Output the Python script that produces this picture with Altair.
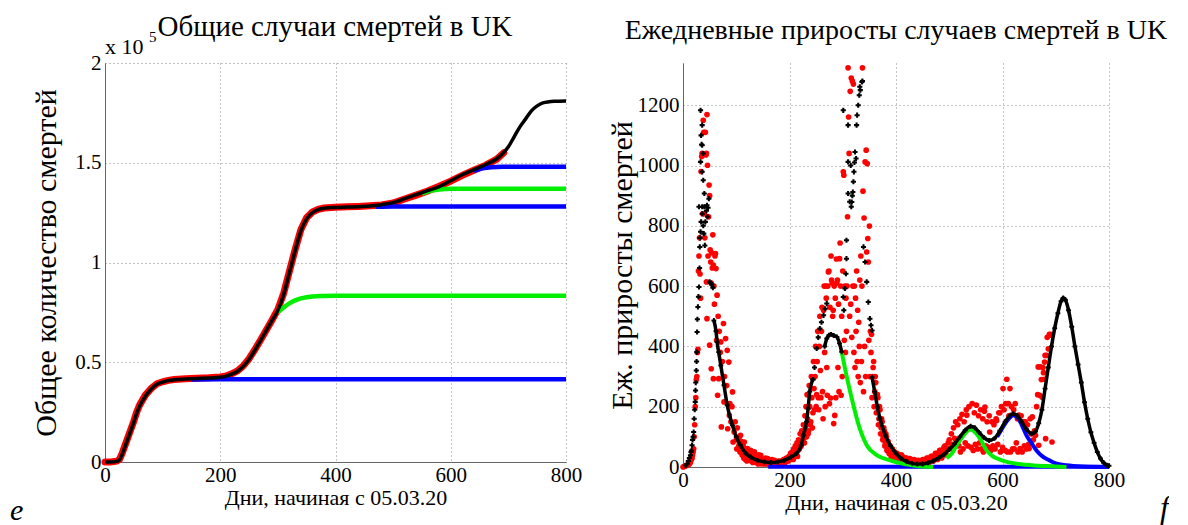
import altair as alt
import pandas as pd

FONT = "Liberation Serif, Times New Roman, serif"

# ---------------- Left panel: cumulative deaths (units of 10^5) ----------------
cum_model_days = [0, 10, 20, 25, 30, 35, 40, 45, 50, 55, 60, 70, 80, 90, 100, 110, 120, 140, 160, 180,
                  200, 210, 220, 230, 240, 250, 260, 270, 280, 290, 300, 310, 320, 330, 340, 350, 360, 370, 380, 400,
                  420, 440, 460, 480, 500, 520, 540, 560, 580, 600, 620, 640, 660, 680, 690, 700, 710, 720, 730, 740,
                  750, 760, 780, 800]
cum_model = [0, 0, 0.003, 0.01, 0.04, 0.08, 0.12, 0.16, 0.2, 0.245, 0.28, 0.33, 0.365, 0.39, 0.4, 0.408, 0.412, 0.416, 0.419, 0.421,
             0.425, 0.43, 0.44, 0.455, 0.48, 0.515, 0.56, 0.61, 0.66, 0.71, 0.76, 0.84, 0.95, 1.06, 1.16, 1.22, 1.25, 1.265, 1.272, 1.276,
             1.278, 1.28, 1.283, 1.29, 1.30, 1.32, 1.34, 1.36, 1.38, 1.41, 1.44, 1.465, 1.49, 1.52, 1.545, 1.58, 1.63, 1.68, 1.72, 1.76,
             1.785, 1.80, 1.808, 1.81]

cum_data_days = [0, 10, 20, 25, 30, 35, 40, 45, 50, 55, 60, 70, 80, 90, 100, 110, 120, 140, 160, 180,
                 200, 210, 220, 230, 240, 250, 260, 270, 280, 290, 300, 310, 320, 330, 340, 350, 360, 370, 380, 400,
                 420, 440, 460, 480, 500, 520, 540, 560, 580, 600, 620, 640, 660, 680, 692]
cum_data = [0, 0, 0.004, 0.012, 0.045, 0.085, 0.125, 0.165, 0.205, 0.25, 0.285, 0.335, 0.368, 0.392, 0.402, 0.409, 0.413, 0.417, 0.42, 0.422,
            0.426, 0.431, 0.442, 0.457, 0.482, 0.518, 0.563, 0.612, 0.662, 0.712, 0.765, 0.845, 0.955, 1.065, 1.165, 1.225, 1.253, 1.266, 1.273, 1.277,
            1.279, 1.281, 1.284, 1.288, 1.298, 1.318, 1.338, 1.358, 1.382, 1.408, 1.437, 1.462, 1.487, 1.518, 1.55]

blue1_days = [150, 200, 240, 800]
blue1 = [0.414, 0.415, 0.415, 0.415]
green1_days = [300, 310, 320, 330, 340, 350, 360, 380, 400, 800]
green1 = [0.75, 0.775, 0.795, 0.81, 0.82, 0.826, 0.83, 0.832, 0.833, 0.833]
blue2_days = [470, 500, 800]
blue2 = [1.279, 1.281, 1.281]
green2_days = [550, 560, 570, 580, 600, 800]
green2 = [1.345, 1.355, 1.362, 1.366, 1.37, 1.37]
blue3_days = [640, 655, 670, 690, 800]
blue3 = [1.46, 1.472, 1.478, 1.48, 1.48]

# ---------------- Right panel: daily increments ----------------
red_days = [0, 2, 4, 6, 8, 10, 12, 14, 16, 17, 18, 19, 20, 21, 22, 23, 24, 25, 26, 27, 28, 29, 30,
            31, 32, 33, 34, 35, 36, 37, 38, 39, 40, 41, 42, 43, 44, 45, 46, 47, 48, 49, 50,
            51, 52, 53, 54, 55, 56, 57, 58, 59, 60,
            44, 45, 50, 53, 57, 61, 62, 64,
            63, 65, 66, 67, 68, 70, 71, 72, 74, 76, 77, 78, 80, 82, 83, 84, 86, 87, 88, 90, 92, 93, 94, 96, 98,
            100, 102, 104, 105, 106, 108, 110, 112, 115, 118, 121, 124, 127, 130, 134, 138, 142, 146, 150, 155,
            159, 163, 167, 172, 176, 180, 185, 190, 195, 197, 200, 204, 207, 209, 212, 215, 219, 222, 225, 228,
            101, 103, 107, 109, 111, 113, 114, 116, 117, 119, 120, 122, 123, 125, 126, 128, 129, 131, 132, 133,
            135, 136, 137, 139, 140, 141, 143, 144, 145, 147, 148, 149, 151, 152, 153, 154, 156, 157, 158, 160,
            161, 162, 164, 165, 166, 168, 169, 170, 171, 173, 174, 175, 177, 178, 179, 181, 182, 183, 184, 186,
            187, 188, 189, 191, 192, 193, 194, 196, 198, 199, 201, 202, 203, 205, 206, 208, 210, 211, 213, 214,
            216, 217, 218, 220, 221, 223, 224, 226, 227, 229,
            230, 231, 232, 233, 234, 235, 236, 237, 238, 239, 240, 241, 242, 243, 244, 245, 246, 247, 248, 249,
            250, 251, 252, 253, 254, 255, 256, 257, 258, 259, 260, 261, 262, 263, 264, 265, 266, 267, 268, 269,
            270, 271, 272, 273, 274, 275, 276, 277, 278, 279, 280, 281, 282, 283, 284, 285, 286, 287, 288, 289,
            290, 291, 292, 293, 294, 295, 296, 297, 298, 299, 300, 301, 302, 303, 304, 305, 306, 307, 308, 309,
            310, 311, 312, 313, 314, 315, 316, 317, 318, 319, 320, 321, 322, 323, 324, 325, 326, 327, 328, 329,
            330, 331, 332, 333, 334, 335, 336, 337, 338, 339, 340, 341, 342, 343, 344, 345, 346, 347, 348, 349,
            350, 351, 352, 353, 354, 355, 356, 357, 358, 359, 360, 361, 362, 363, 364, 365, 366, 367, 368, 369,
            370, 371, 372, 373, 374, 375, 376, 377, 378, 379, 380, 381, 382, 383, 384, 385, 386, 387, 388, 389,
            390, 391, 392, 393, 394, 395, 396, 397, 398, 399, 400, 402, 404, 406, 408, 410, 412, 414, 416, 418,
            420, 422, 424, 426, 428, 430, 432, 434, 436, 438, 440, 442, 444, 446, 448, 450, 452, 454, 456, 458,
            460, 462, 464, 466, 468, 470, 472, 474, 476, 478, 480, 482, 484, 486, 488, 490, 492, 494, 496, 498,
            500, 501, 504, 506, 508, 510, 512, 514, 516, 518, 520, 521, 524, 526, 528, 530, 532, 533, 535, 537,
            539, 541, 543, 545, 547, 549, 551, 553, 555, 557, 559, 561, 563, 564, 566, 567, 569, 571, 573, 575,
            576, 578, 580, 582, 584, 586, 588, 589, 591, 593, 595, 596, 598, 600, 601, 603, 605, 606, 608, 609,
            611, 612, 614, 615, 617, 619, 621, 622, 624, 626, 628, 629, 631, 633, 635, 637, 639, 641, 643, 645,
            647, 649, 650, 652, 654, 656, 658, 660, 662, 664, 666, 667, 668, 670, 671, 673, 674, 676, 677, 678,
            679, 680, 681, 683, 684, 686, 688, 689, 691, 693]
red_vals = [0, 2, 3, 5, 6, 8, 10, 15, 25, 30, 40, 50, 60, 100, 140, 200, 230, 290, 300, 380, 390, 650, 700,
            760, 640, 560, 980, 1030, 1040, 840, 1150, 1110, 840, 760, 1110, 1035, 1040, 1169, 1001, 700, 830, 935, 900,
            720, 680, 610, 710, 660, 770, 670, 600, 540, 700,
            614, 492, 404, 326, 293, 708, 658, 570,
            420, 238, 500, 293, 450, 380, 415, 133, 350, 476, 216, 300, 426, 270, 387, 127, 348, 171, 210, 150, 200, 249, 83, 116, 150,
            90, 130, 60, 72, 100, 105, 70, 55, 83, 40, 61, 35, 55, 30, 50, 25, 40, 39, 20, 30,
            28, 15, 25, 22, 12, 20, 15, 25, 20, 28, 30, 40, 25, 44, 50, 35, 61, 70, 105, 80,
            60, 95, 50, 85, 40, 70, 30, 50, 25, 45, 20, 30, 50, 25, 40, 20, 35, 15, 45, 25,
            20, 35, 15, 30, 20, 10, 25, 15, 30, 20, 10, 25, 15, 25, 10, 20, 15, 10, 20, 12,
            20, 8, 18, 10, 20, 12, 18, 10, 15, 10, 18, 8, 15, 10, 18, 10, 15, 10, 20, 12,
            20, 15, 25, 18, 15, 22, 30, 25, 20, 35, 25, 45, 30, 50, 35, 60, 40, 70, 45, 80,
            55, 90, 60, 110, 75, 120, 90, 140, 95, 170,
            130, 200, 100, 240, 160, 110, 120, 270, 200, 140, 150, 300, 230, 130, 180, 350, 260, 190, 300, 400,
            200, 240, 350, 450, 230, 190, 400, 500, 320, 230, 450, 530, 250, 160, 520, 600, 380, 200, 600, 560,
            330, 238, 600, 647, 650, 210, 530, 229, 700, 620, 610, 500, 520, 144, 600, 171, 560, 230, 690, 610,
            620, 330, 540, 250, 691, 743, 600, 238, 500, 300, 650, 979, 968, 420, 600, 380, 560, 450, 600, 830,
            1324, 1161, 1040, 500, 1246, 540, 1290, 430, 1280, 600, 1270, 380, 600, 330, 560, 450, 650, 350, 520, 300,
            480, 400, 620, 280, 700, 350, 600, 1324, 915, 250, 826, 400, 1012, 300, 1051, 713, 1006, 758, 680, 420,
            799, 300, 450, 380, 440, 230, 300, 330, 350, 200, 250, 300, 280, 180, 200, 240, 230, 140, 160, 200,
            190, 110, 130, 160, 150, 90, 100, 130, 120, 70, 80, 110, 100, 55, 60, 85, 75, 45, 50, 70,
            60, 35, 40, 60, 55, 30, 35, 50, 45, 25, 30, 45, 40, 25, 25, 40, 35, 20, 20, 30,
            30, 15, 20, 28, 25, 12, 15, 25, 22, 10, 12, 22, 20, 10, 15, 25, 25, 12, 20, 30,
            30, 15, 25, 35, 35, 20, 30, 45, 45, 25, 40, 55, 55, 30, 50, 65, 70, 40, 60, 80,
            90, 61, 110, 75, 130, 95, 150, 83, 140, 70, 160, 50, 175, 60, 150, 80, 190, 172, 70, 200,
            127, 65, 210, 55, 180, 75, 205, 60, 170, 80, 190, 60, 160, 50, 185, 199, 70, 150, 65, 170,
            116, 55, 150, 70, 140, 60, 160, 154, 75, 180, 180, 50, 200, 65, 260, 190, 55, 210, 291, 50,
            210, 170, 260, 50, 200, 60, 190, 60, 210, 80, 160, 50, 172, 61, 170, 50, 150, 70, 150, 60,
            140, 75, 61, 160, 110, 166, 90, 120, 105, 200, 240, 332, 72, 238, 332, 290, 232, 330, 313, 291,
            348, 370, 94, 370, 430, 392, 440, 437, 440, 83]

bx_days = [5, 8, 10, 12, 14, 15, 16, 17, 18, 19, 20, 21, 22, 23, 23.5, 24, 25, 25.5, 26, 26.5, 27, 28, 29, 30, 31,
           31.5, 32, 33, 33, 34, 35, 36, 36, 33, 38, 36, 38, 40, 30, 36, 40, 45, 48.6, 34, 42, 39, 41, 36, 44, 38,
           47, 46, 50, 52, 54, 56,
           244, 247, 251, 254, 257, 260, 264, 267, 270,
           301, 310, 326, 327, 329, 331, 332, 336, 337, 323, 325, 321, 320, 319, 317, 310, 310, 316, 307, 307,
           306, 301, 302, 304, 339, 342, 345, 348, 351, 353, 355, 322, 318, 313, 315, 333]
bx_vals = [5, 11, 20, 30, 39, 50, 55, 72, 90, 100, 116, 160, 190, 216, 254, 280, 320, 350, 381, 448, 490, 531, 565, 597, 660,
           730, 760, 780, 1183, 1100, 1070, 1134, 1067, 1012, 1040, 979, 951, 907, 863, 863, 863, 868, 890, 813, 813, 774, 735, 840, 850, 800,
           860, 830, 614, 610, 605, 595,
           290, 330, 393, 430, 459, 480, 503, 525, 542,
           1183, 1134, 1134, 1167, 1200, 1233, 1261, 1277, 1280, 1045, 1023, 979, 946, 912, 879, 1012, 907, 863, 752, 691,
           641, 564, 520, 592, 730, 680, 614, 547, 492, 470, 453, 1010, 900, 880, 1000, 1250]

segA1_days = [58, 62, 64, 67, 71, 77, 83, 93, 100, 108, 118, 127, 140, 153, 165, 178, 190, 203, 213, 222, 226, 232, 235, 238, 244]
segA1 = [486, 450, 415, 381, 337, 271, 205, 138, 100, 72, 45, 33, 22, 17, 15, 17, 22, 33, 45, 72, 105, 150, 194, 250, 290]
segA2_days = [266, 270, 274, 278, 283, 289, 294, 298]
segA2 = [400, 426, 437, 440, 436, 431, 410, 382]
segB_days = [355, 360, 365, 370, 380, 390, 400, 410, 420, 430, 440, 450, 460, 470, 480, 490, 500, 510, 520, 530,
             540, 548, 556, 565, 575, 585, 595, 605, 615, 620, 628, 636, 645, 655, 662, 668, 674, 680, 686, 692,
             698, 704, 710, 714, 718, 724, 730, 736, 742, 748, 754, 760, 766, 772, 778, 784, 790, 796, 800]
segB = [298, 250, 200, 160, 105, 70, 45, 28, 18, 12, 10, 10, 14, 20, 30, 42, 58, 77, 100, 122,
        135, 130, 115, 98, 88, 95, 120, 150, 172, 177, 170, 150, 125, 110, 118, 145, 190, 260, 330, 400,
        460, 510, 550, 561, 555, 520, 465, 400, 340, 280, 215, 160, 115, 80, 50, 28, 14, 6, 4]

g1r_days = [298, 307, 320, 332, 345, 364, 389, 410, 430, 450, 470]
g1r = [382, 304, 205, 127, 72, 39, 22, 12, 6, 2, 0]
g2r_days = [495, 505, 515, 525, 533, 540, 550, 560, 570, 580, 590, 610, 630, 660, 700, 720]
g2r = [30, 45, 75, 100, 118, 125, 112, 88, 55, 38, 28, 16, 10, 5, 2, 0]
b5r_days = [590, 600, 612, 620, 628, 636, 645, 655, 665, 675, 685, 700, 720, 750, 800]
b5r = [100, 130, 160, 172, 165, 140, 105, 78, 52, 35, 25, 12, 6, 2, 0]
b0r_days = [160, 800]
b0r = [1, 1]


def frame(days, vals, name):
    return pd.DataFrame({"day": days, "v": vals, "s": name})


left_df = pd.concat([
    frame(cum_data_days, cum_data, "data"),
    frame(cum_model_days, cum_model, "model"),
    frame(blue1_days, blue1, "b1"),
    frame(green1_days, green1, "g1"),
    frame(blue2_days, blue2, "b2"),
    frame(green2_days, green2, "g2"),
    frame(blue3_days, blue3, "b3"),
])

right_df = pd.concat([
    frame(red_days, red_vals, "red"),
    frame(bx_days, bx_vals, "bx"),
    frame(segA1_days, segA1, "A1"),
    frame(segA2_days, segA2, "A2"),
    frame(segB_days, segB, "B"),
    frame(g1r_days, g1r, "g1"),
    frame(g2r_days, g2r, "g2"),
    frame(b5r_days, b5r, "b5"),
    frame(b0r_days, b0r, "b0"),
])

RED = "#ff0000"
GREEN = "#00ee00"
BLUE = "#0000ff"

xaxis = alt.Axis(values=[0, 200, 400, 600, 800], title="Дни, начиная с 05.03.20", titleFontSize=22,
                 titlePadding=2, labelFlush=False, format="d", labelPadding=2)

# ---- left chart ----
lbase = alt.Chart(left_df).encode(
    x=alt.X("day:Q", scale=alt.Scale(domain=[0, 800], nice=False), axis=xaxis),
    y=alt.Y("v:Q", scale=alt.Scale(domain=[0, 2], nice=False),
            axis=alt.Axis(values=[0, 0.5, 1, 1.5, 2], format="~g", title="Общее количество смертей",
                          titleFontSize=30, titlePadding=6, minExtent=38, maxExtent=38)),
    detail="s:N",
)

l_red = lbase.transform_filter(alt.datum.s == "data").mark_line(color=RED, strokeWidth=7, strokeCap="round")
l_blue = lbase.transform_filter(alt.FieldOneOfPredicate(field="s", oneOf=["b1", "b2", "b3"])).mark_line(
    color=BLUE, strokeWidth=4.5, interpolate="monotone")
l_green = lbase.transform_filter(alt.FieldOneOfPredicate(field="s", oneOf=["g1", "g2"])).mark_line(
    color=GREEN, strokeWidth=4.5, interpolate="monotone")
l_black = lbase.transform_filter(alt.datum.s == "model").mark_line(color="black", strokeWidth=3.5,
                                                                   interpolate="monotone")

ltxt = pd.DataFrame({"t": ["Общие случаи смертей в UK"]})
l_title = alt.Chart(ltxt).mark_text(font=FONT, fontSize=29, align="center", baseline="alphabetic").encode(
    x=alt.value(230), y=alt.value(-27), text="t:N")
l_x10 = alt.Chart(pd.DataFrame({"t": ["x 10"]})).mark_text(font=FONT, fontSize=22, align="left",
                                                          baseline="alphabetic").encode(
    x=alt.value(0), y=alt.value(-9), text="t:N")
l_exp = alt.Chart(pd.DataFrame({"t": ["5"]})).mark_text(font=FONT, fontSize=15, align="left",
                                                       baseline="alphabetic").encode(
    x=alt.value(44), y=alt.value(-21), text="t:N")
l_e = alt.Chart(pd.DataFrame({"t": ["e"]})).mark_text(font=FONT, fontSize=30, fontStyle="italic", align="left",
                                                     baseline="alphabetic").encode(
    x=alt.value(-95), y=alt.value(58 + 399), text="t:N")

left = alt.layer(l_red, l_blue, l_green, l_black, l_title, l_x10, l_exp, l_e).properties(width=461, height=399)

# ---- right chart ----
rbase = alt.Chart(right_df).encode(
    x=alt.X("day:Q", scale=alt.Scale(domain=[0, 800], nice=False), axis=xaxis),
    y=alt.Y("v:Q", scale=alt.Scale(domain=[0, 1340], nice=False),
            axis=alt.Axis(values=[0, 200, 400, 600, 800, 1000, 1200], format="d", title="Еж. приросты смертей",
                          titleFontSize=30, titlePadding=2, minExtent=44, maxExtent=44)),
    detail="s:N",
)
r_red = rbase.transform_filter(alt.datum.s == "red").mark_circle(color=RED, size=32, opacity=1)
r_blue = rbase.transform_filter(alt.FieldOneOfPredicate(field="s", oneOf=["b0", "b5"])).mark_line(
    color=BLUE, strokeWidth=4, interpolate="monotone")
r_green = rbase.transform_filter(alt.FieldOneOfPredicate(field="s", oneOf=["g1", "g2"])).mark_line(
    color=GREEN, strokeWidth=4, interpolate="monotone")
r_black = rbase.transform_filter(alt.FieldOneOfPredicate(field="s", oneOf=["A1", "A2", "B"])).mark_line(
    color="black", strokeWidth=3.5, interpolate="monotone",
    point=alt.OverlayMarkDef(shape="cross", size=24, filled=True, color="black"))
r_cross = rbase.transform_filter(alt.datum.s == "bx").mark_point(shape="cross", size=26, filled=True,
                                                                color="black", opacity=1)

rtxt = pd.DataFrame({"t": ["Ежедневные приросты случаев смертей в UK"]})
r_title = alt.Chart(rtxt).mark_text(font=FONT, fontSize=28, align="center", baseline="alphabetic").encode(
    x=alt.value(213), y=alt.value(-24), text="t:N")
r_f = alt.Chart(pd.DataFrame({"t": ["f"]})).mark_text(font=FONT, fontSize=32, fontStyle="italic", align="left",
                                                     baseline="alphabetic").encode(
    x=alt.value(477), y=alt.value(455), text="t:N")

right = alt.layer(r_red, r_blue, r_green, r_black, r_cross, r_title, r_f).properties(width=426, height=404)

chart = alt.hconcat(left, right, spacing=25).properties(
    padding={"left": 2, "top": 5, "right": 0, "bottom": 0}
).configure_view(stroke=None).configure_axis(
    labelFont=FONT, titleFont=FONT, labelFontSize=21, labelColor="black", titleColor="black",
    titleFontWeight="normal", domainColor="#666666", domainWidth=1, ticks=False, labelPadding=4,
    gridColor="#888888", gridDash=[1, 3], gridWidth=1, gridOpacity=1
)

chart.save("out.html", embed_options={"renderer": "svg", "actions": False})
